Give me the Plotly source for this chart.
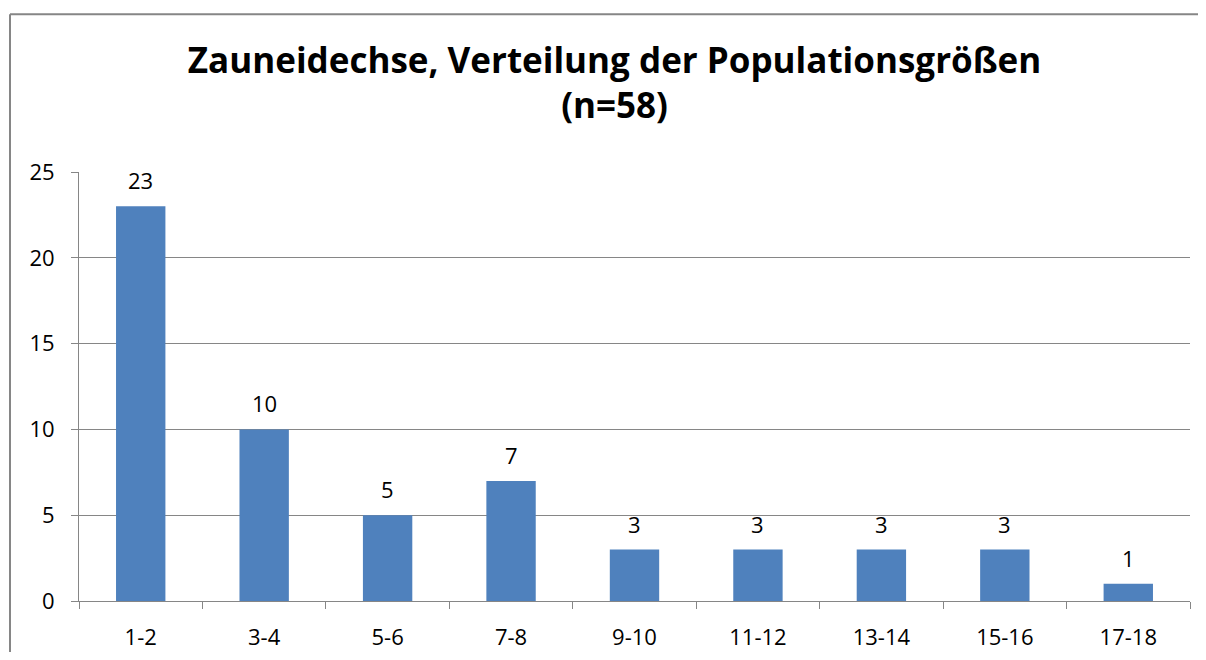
import plotly.graph_objects as go

# Populationsgrößen-Klassen und Anzahl der Populationen
klassen = ["1-2", "3-4", "5-6", "7-8", "9-10", "11-12", "13-14", "15-16", "17-18"]
anzahl = [23, 10, 5, 7, 3, 3, 3, 3, 1]
y_ticks = [0, 5, 10, 15, 20, 25]

FONT = "Open Sans"
GRAU = "#868686"

fig = go.Figure()
fig.add_trace(go.Bar(x=klassen, y=anzahl, marker=dict(color="#4F81BD", line=dict(width=0)),
                     hoverinfo="x+y"))

# Datenbeschriftungen über den Balken
for k, n in zip(klassen, anzahl):
    fig.add_annotation(x=k, y=n, text=str(n), showarrow=False, yanchor="bottom",
                       yshift=9, font=dict(family=FONT, size=22, color="black"))

# die Seite hat 8px Rand -> Figur etwas kleiner als das Fenster
fig.update_layout(
    width=1198, height=644,
    margin=dict(l=71, r=16, t=164, b=51, autoexpand=False),
    paper_bgcolor="white", plot_bgcolor="white",
    showlegend=False,
    bargap=0.6,
    title=dict(text="<b>Zauneidechse, Verteilung der Populationsgrößen<br>(n=58)</b>",
               x=0.5063, xanchor="center", y=1 - 64.5 / 644, yanchor="middle", yref="container",
               font=dict(family=FONT, size=35, color="black")),
    font=dict(family=FONT, size=22, color="black"),
)

fig.update_xaxes(type="category", showline=True, linecolor=GRAU, linewidth=1, ticks="outside",
                 ticklen=7, tickcolor=GRAU, tickson="boundaries", showgrid=False,
                 automargin=False, ticklabelstandoff=17, tickfont=dict(family=FONT, size=22))
fig.update_yaxes(range=[0, 25], tickvals=y_ticks, showline=True, linecolor=GRAU, linewidth=1,
                 ticks="outside", ticklen=7, tickcolor=GRAU, showgrid=True, gridcolor=GRAU,
                 gridwidth=1, zeroline=False, automargin=False, ticklabelstandoff=12,
                 tickfont=dict(family=FONT, size=22))

# Rahmen des Diagrammbereichs (links und oben sichtbar)
fig.add_shape(type="line", xref="paper", yref="paper", x0=-0.0621, x1=1.03, y0=1.368, y1=1.368,
              line=dict(color=GRAU, width=2))
fig.add_shape(type="line", xref="paper", yref="paper", x0=-0.0621, x1=-0.0621, y0=1.368, y1=-0.2,
              line=dict(color=GRAU, width=2))

fig.write_html("out.html")
